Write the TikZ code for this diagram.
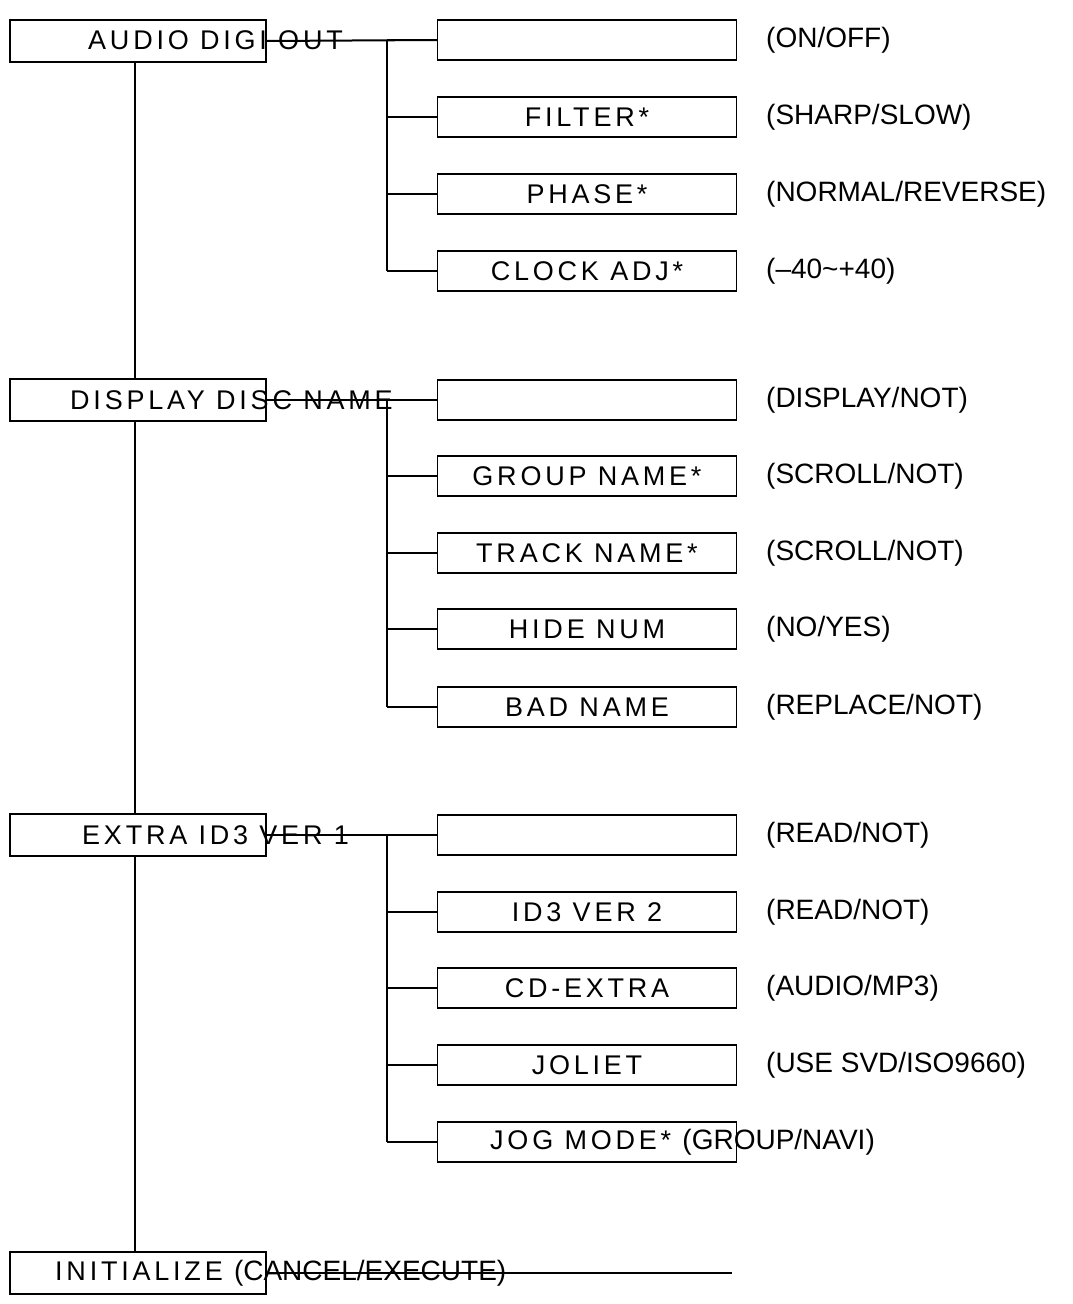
\documentclass[tikz,border=0pt]{standalone}
\usepackage{fontspec}
\setmainfont{Liberation Sans}
\newfontfamily\boxfont[LetterSpace=14]{Liberation Sans}
\begin{document}
\begin{tikzpicture}[x=1pt,y=-1pt,
  lbox/.style={draw,fill=white,line width=1.2pt,minimum width=256pt,minimum height=42pt,inner sep=0},
  rbox/.style={draw,fill=white,line width=1.2pt,minimum width=299pt,minimum height=40pt,inner sep=0},
  btxt/.style={font=\boxfont\fontsize{27}{30}\selectfont,inner sep=0},
  ltxt/.style={font=\fontsize{28}{32}\selectfont,anchor=west,inner sep=0},
  ln/.style={line width=2pt}]
\useasboundingbox (0,0) rectangle (1073,1304);
\coordinate (T1) at (135,62);
\coordinate (T4) at (135,1252);
\draw[ln] (T1) -- (T4);
% left boxes
\node[lbox] (L1) at (138,41) {};
\node[lbox] (L2) at (138,400) {};
\node[lbox] (L3) at (138,835) {};
\node[lbox] (L4) at (138,1273) {};
\coordinate (E4) at (732,1273);
\draw[ln] (L4.east) -- (E4);
% groups
\foreach \y/\t/\l [count=\i] in {40/{}/{(ON/OFF)},117/{FILTER*}/{(SHARP/SLOW)},194/{PHASE*}/{(NORMAL/REVERSE)},271/{CLOCK ADJ*}/{(--40\textasciitilde+40)},
 400/{}/{(DISPLAY/NOT)},476/{GROUP NAME*}/{(SCROLL/NOT)},553/{TRACK NAME*}/{(SCROLL/NOT)},629/{HIDE NUM}/{(NO/YES)},707/{BAD NAME}/{(REPLACE/NOT)},
 835/{}/{(READ/NOT)},912/{ID3 VER 2}/{(READ/NOT)},988/{CD-EXTRA}/{(AUDIO/MP3)},1065/{JOLIET}/{(USE SVD/ISO9660)}}{
  \node[rbox] (R\i) at (587,\y) {};
  \node[btxt] at (587,\y) {\t};
  \node[ltxt] at (766,\y) {\l};
  \coordinate (B\i) at (387,\y);
  \draw[ln] (B\i) -- (R\i.west);
}
\node[rbox] (R14) at (587,1142) {};
\node[btxt,anchor=west] at (490,1142) {JOG MODE* {\fontsize{28}{32}\selectfont\rmfamily (GROUP/NAVI)}};
\coordinate (B14) at (387,1142);
\draw[ln] (B14) -- (R14.west);
\node[btxt,anchor=west] at (88,40) {AUDIO DIGI OUT};
\node[btxt,anchor=west] at (70,400) {DISPLAY DISC NAME};
\node[btxt,anchor=west] at (82,835) {EXTRA ID3 VER 1};
\node[btxt,anchor=west] at (55,1273) {INITIALIZE {\fontsize{28}{32}\selectfont\rmfamily (CANCEL/EXECUTE)}};
\draw[ln] (L1.east) -- (R1.west);
\draw[ln] (L2.east) -- (R5.west);
\draw[ln] (L3.east) -- (R10.west);
\draw[ln] (L4.east) -- (E4);
\draw[ln] (B1) -- (B4);
\draw[ln] (B5) -- (B9);
\draw[ln] (B10) -- (B14);
\end{tikzpicture}
\end{document}
